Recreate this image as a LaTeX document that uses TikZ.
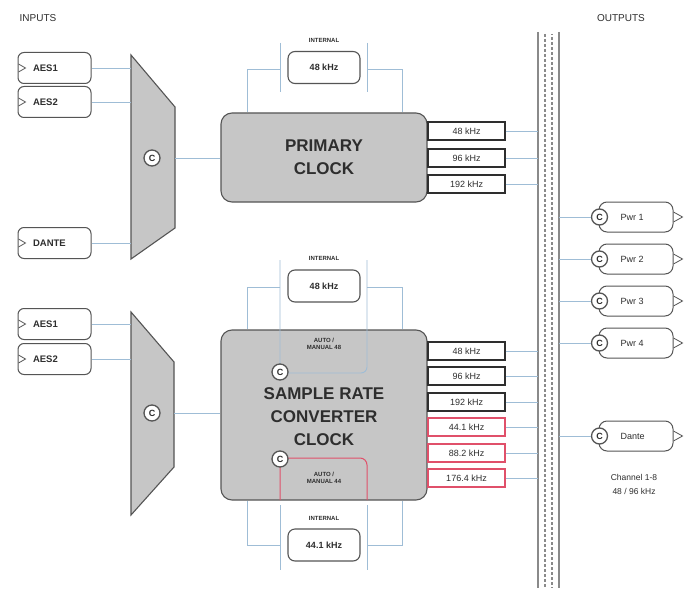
\documentclass[tikz,border=0pt]{standalone}
\usepackage{fontspec}
\setmainfont{Liberation Sans}
\definecolor{wirec}{HTML}{9FBDD6}
\definecolor{gfill}{HTML}{C6C6C6}
\definecolor{gline}{HTML}{555555}
\definecolor{txtc}{HTML}{2E2E2E}
\definecolor{rd}{HTML}{E0506A}
\definecolor{busc}{HTML}{8A8A8A}
\tikzset{
  wire/.style={draw=wirec, line width=0.9pt},
  inbox/.style={draw=gline, fill=white, rounded corners=6pt, minimum width=73pt, minimum height=31pt, line width=1pt, inner sep=0pt},
  intxt/.style={font=\fontsize{9.5}{10}\selectfont\bfseries, text=txtc},
  cbadge/.style={circle, draw=gline, fill=white, line width=1.3pt, minimum size=16pt, inner sep=0pt, font=\fontsize{9}{9}\selectfont\bfseries, text=txtc},
  muxshape/.style={draw=gline, fill=gfill, line width=1.1pt},
  clock/.style={draw=gline, fill=gfill, rounded corners=11pt, line width=1.1pt, align=center, text=txtc, font=\fontsize{17}{23}\selectfont\bfseries},
  intbox/.style={draw=gline, fill=white, rounded corners=7pt, minimum width=72pt, minimum height=32pt, line width=1.1pt, font=\fontsize{9}{10}\selectfont\bfseries, text=txtc},
  ratebox/.style={draw=txtc, fill=white, minimum width=77pt, minimum height=18pt, line width=1.4pt, inner sep=0pt, font=\fontsize{9}{10}\selectfont, text=txtc},
  redrate/.style={ratebox, draw=rd},
  outbox/.style={draw=gline, fill=white, rounded corners=8pt, minimum width=74pt, minimum height=30pt, line width=1pt},
  outtxt/.style={font=\fontsize{9}{10}\selectfont, text=txtc},
  tiny/.style={font=\fontsize{6}{7}\selectfont\bfseries, text=txtc, align=center},
  head/.style={font=\fontsize{10}{11}\selectfont, text=txtc},
  port/.style={draw=gline, line width=0.8pt},
  note/.style={font=\fontsize{8.5}{14}\selectfont, text=txtc, align=center},
  busdash/.style={draw=busc, line width=2pt, dash pattern=on 3pt off 2pt},
}
\begin{document}
\begin{tikzpicture}[x=1pt,y=-1pt]
\useasboundingbox (0,0) rectangle (684,588);
\fill[white] (0,0) rectangle (684,588);

% headings
\node[head] (hin) at (38,18) {INPUTS};
\node[head] (hout) at (621,18) {OUTPUTS};

% bus
\coordinate (busL) at (538,0);
\coordinate (busR) at (559,0);
\fill[white] (538,32) rectangle (559,588);
\draw[busc, line width=1.6pt] (538,32) -- (538,588) (559,32) -- (559,588);
\draw[busdash] (545,34) -- (545,588);
\draw[busdash, dash phase=2pt] (552,34) -- (552,588);

% ================= PRIMARY =================
\node[inbox] (ae1) at (54.5,68) {};
\node[inbox] (ae2) at (54.5,102) {};
\node[inbox] (dan) at (54.5,243) {};
\foreach \n/\t in {ae1/AES1, ae2/AES2, dan/DANTE}{
  \draw[port] ([xshift=1pt,yshift=-4pt]\n.west) -- ([xshift=8pt]\n.west) -- ([xshift=1pt,yshift=4pt]\n.west);
  \node[intxt, anchor=west] at ([xshift=12pt]\n.west) {\t};
}
\path[muxshape] (131,55) -- (175,107) -- (175,228) -- (131,259) -- cycle;
\coordinate (m1L) at (131,0);
\coordinate (m1R) at (175,0);
\node[cbadge] (mc1) at (152,158) {C};
\foreach \n in {ae1,ae2,dan}{ \draw[wire] (\n.east) -- (\n.east -| m1L); }

\node[clock, minimum width=206pt, minimum height=89pt] (pclk) at (324,157.5) {PRIMARY\\CLOCK};
\draw[wire] (mc1.east -| m1R) -- (pclk.west |- mc1.east);

\node[tiny] (int1l) at (324,40) {INTERNAL};
\node[intbox] (int1) at (324,67.5) {48 kHz};
\coordinate (b1L) at (280,69);
\coordinate (b1R) at (367,69);
\coordinate (b1LL) at (247,69);
\coordinate (b1RR) at (402,69);
\draw[wire] (280,43) -- (280,92) (367,43) -- (367,92);
\draw[wire] (b1L) -- (b1LL) -- (b1LL |- pclk.north);
\draw[wire] (b1R) -- (b1RR) -- (b1RR |- pclk.north);

\node[ratebox] (p48) at (466.5,131) {48 kHz};
\node[ratebox] (p96) at (466.5,158) {96 kHz};
\node[ratebox] (p192) at (466.5,184) {192 kHz};
\foreach \n in {p48,p96,p192}{ \draw[wire] (\n.east) -- (\n.east -| busL); }

% ================= SRC =================
\node[inbox] (ae3) at (54.5,324) {};
\node[inbox] (ae4) at (54.5,359) {};
\foreach \n/\t in {ae3/AES1, ae4/AES2}{
  \draw[port] ([xshift=1pt,yshift=-4pt]\n.west) -- ([xshift=8pt]\n.west) -- ([xshift=1pt,yshift=4pt]\n.west);
  \node[intxt, anchor=west] at ([xshift=12pt]\n.west) {\t};
}
\path[muxshape] (131,312) -- (174,362) -- (174,467) -- (131,515) -- cycle;
\coordinate (m2L) at (131,0);
\coordinate (m2R) at (174,0);
\node[cbadge] (mc2) at (152,413) {C};
\foreach \n in {ae3,ae4}{ \draw[wire] (\n.east) -- (\n.east -| m2L); }

\node[clock, minimum width=206pt, minimum height=170pt] (sclk) at (324,415) {};
\node[clock, draw=none, fill=none] (stxt) at (324,417) {SAMPLE RATE\\CONVERTER\\CLOCK};
\draw[wire] (mc2.east -| m2R) -- (sclk.west |- mc2.east);

% top internal 48
\node[tiny] (int2l) at (324,258) {INTERNAL};
\node[intbox] (int2) at (324,286) {48 kHz};
\draw[wire, rounded corners=6pt] (280,260) -- (280,373) -- (367,373) -- (367,260);
\coordinate (b2L) at (280,287);
\coordinate (b2R) at (367,287);
\coordinate (b2LL) at (247,287);
\coordinate (b2RR) at (402,287);
\draw[wire] (b2L) -- (b2LL) -- (b2LL |- sclk.north);
\draw[wire] (b2R) -- (b2RR) -- (b2RR |- sclk.north);
\node[tiny] (am48) at (324,344) {AUTO /\\MANUAL 48};
\node[cbadge] (c48) at (280,372) {C};

% bottom internal 44.1
\draw[rd, line width=1pt, rounded corners=7pt] (280,500) -- (280,458) -- (367,458) -- (367,500);
\node[tiny] (am44) at (324,478) {AUTO /\\MANUAL 44};
\node[cbadge] (c44) at (280,459) {C};
\node[tiny] (int3l) at (324,518) {INTERNAL};
\node[intbox] (int3) at (324,545) {44.1 kHz};
\draw[wire] (280,505) -- (280,570) (367,505) -- (367,570);
\coordinate (b3L) at (280,545);
\coordinate (b3R) at (367,545);
\coordinate (b3LL) at (247,545);
\coordinate (b3RR) at (402,545);
\draw[wire] (b3L) -- (b3LL) -- (b3LL |- sclk.south);
\draw[wire] (b3R) -- (b3RR) -- (b3RR |- sclk.south);

\node[ratebox] (s48) at (466.5,351) {48 kHz};
\node[ratebox] (s96) at (466.5,376) {96 kHz};
\node[ratebox] (s192) at (466.5,402) {192 kHz};
\node[redrate] (s441) at (466.5,427) {44.1 kHz};
\node[redrate] (s882) at (466.5,453) {88.2 kHz};
\node[redrate] (s1764) at (466.5,478) {176.4 kHz};
\foreach \n in {s48,s96,s192,s441,s882,s1764}{ \draw[wire] (\n.east) -- (\n.east -| busL); }

% ================= OUTPUTS =================
\foreach \n/\y/\t in {o1/217/Pwr 1, o2/259/Pwr 2, o3/301/Pwr 3, o4/343/Pwr 4, o5/436/Dante}{
  \node[outbox] (\n) at (636,\y) {};
  \draw[port] ([yshift=-5pt]\n.east) -- ([xshift=9pt]\n.east) -- ([yshift=5pt]\n.east);
  \node[cbadge] (\n c) at (599.5,\y) {C};
  \node[outtxt, anchor=west] (\n t) at (617,\y) {\t};
  \draw[wire] (\n c.west) -- (\n c.west -| busR);
}
\node[note] (chan) at (634,484) {Channel 1-8\\48 / 96 kHz};
\end{tikzpicture}
\end{document}
